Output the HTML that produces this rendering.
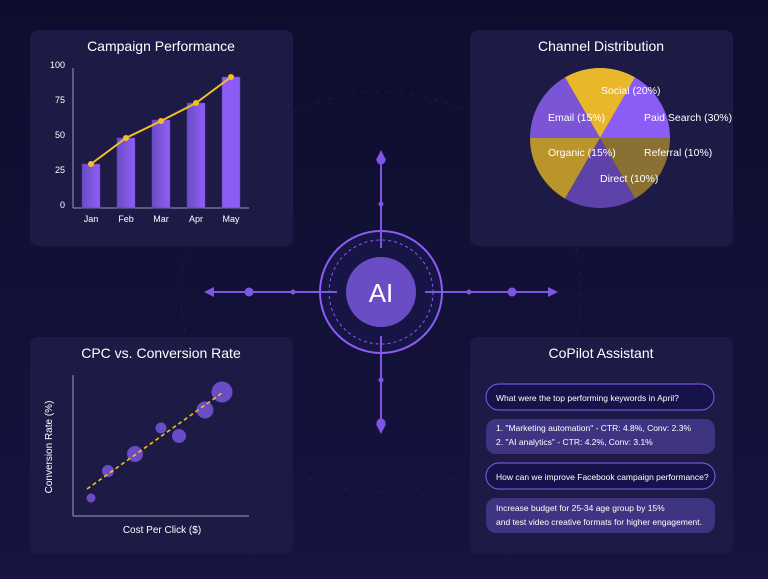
<!DOCTYPE html>
<html><head><meta charset="utf-8"><style>
body{margin:0;width:768px;height:579px;overflow:hidden;background:#100f32;font-family:"Liberation Sans",sans-serif}
svg{display:block}
text{font-family:"Liberation Sans",sans-serif;fill:#fff}
</style></head><body>
<svg width="768" height="579" viewBox="0 0 768 579">
<defs>
<linearGradient id="bg" x1="0" y1="0" x2="0" y2="1"><stop offset="0" stop-color="#0e0d2e"/><stop offset="1" stop-color="#161440"/></linearGradient>
<linearGradient id="bar" x1="0" y1="0" x2="1" y2="0"><stop offset="0" stop-color="#6a4cc4"/><stop offset="1" stop-color="#8f5ff7"/></linearGradient>
</defs>
<rect width="768" height="579" fill="url(#bg)"/>
<circle cx="381" cy="292" r="200" fill="none" stroke="#2a2760" stroke-dasharray="4 8" opacity=".5"/>
<!-- panels -->
<g fill="#1d1b45">
<rect x="30" y="30" width="263" height="216" rx="8"/>
<rect x="470" y="30" width="263" height="216" rx="8"/>
<rect x="30" y="337" width="263" height="217" rx="8"/>
<rect x="470" y="337" width="263" height="217" rx="8"/>
</g>
<!-- bar chart -->
<text x="161" y="51" font-size="14" text-anchor="middle">Campaign Performance</text>
<g font-size="9" text-anchor="end"><text x="65" y="68">100</text><text x="65" y="103">75</text><text x="65" y="138">50</text><text x="65" y="173">25</text><text x="65" y="208">0</text></g>
<line x1="73" y1="68" x2="73" y2="208" stroke="#9a98b8" stroke-width="1"/>
<line x1="73" y1="208" x2="249" y2="208" stroke="#9a98b8" stroke-width="1"/>
<g fill="url(#bar)" stroke="#5a3fb0" stroke-width=".5">
<rect x="82" y="164" width="18" height="44"/><rect x="117" y="138" width="18" height="70"/><rect x="152" y="120" width="18" height="88"/><rect x="187" y="103" width="18" height="105"/><rect x="222" y="77" width="18" height="131" fill="#8b5cf6"/>
</g>
<polyline points="91,164 126,138 161,121 196,103 231,77" fill="none" stroke="#f2bf25" stroke-width="2"/>
<g fill="#f2bf25"><circle cx="91" cy="164" r="3"/><circle cx="126" cy="138" r="3"/><circle cx="161" cy="121" r="3"/><circle cx="196" cy="103" r="3"/><circle cx="231" cy="77" r="3"/></g>
<g font-size="9" text-anchor="middle"><text x="91" y="222">Jan</text><text x="126" y="222">Feb</text><text x="161" y="222">Mar</text><text x="196" y="222">Apr</text><text x="231" y="222">May</text></g>
<!-- pie -->
<text x="601" y="51" font-size="14" text-anchor="middle">Channel Distribution</text>
<g transform="translate(600,138)">
<path d="M0 0 L35 -60.6 A70 70 0 0 1 70 0Z" fill="#8b5cf6"/>
<path d="M0 0 L-35 -60.6 A70 70 0 0 1 35 -60.6Z" fill="#e8b82a"/>
<path d="M0 0 L-70 0 A70 70 0 0 1 -35 -60.6Z" fill="#7b55d6"/>
<path d="M0 0 L-35 60.6 A70 70 0 0 1 -70 0Z" fill="#b9952b"/>
<path d="M0 0 L35 60.6 A70 70 0 0 1 -35 60.6Z" fill="#5e42aa"/>
<path d="M0 0 L70 0 A70 70 0 0 1 35 60.6Z" fill="#8a7032"/>
</g>
<g font-size="10.5"><text x="601" y="94">Social (20%)</text><text x="548" y="121">Email (15%)</text><text x="644" y="121">Paid Search (30%)</text><text x="548" y="156">Organic (15%)</text><text x="644" y="156">Referral (10%)</text><text x="600" y="182">Direct (10%)</text></g>
<!-- scatter -->
<text x="161" y="358" font-size="14" text-anchor="middle">CPC vs. Conversion Rate</text>
<line x1="73" y1="375" x2="73" y2="516" stroke="#9a98b8"/>
<line x1="73" y1="516" x2="249" y2="516" stroke="#9a98b8"/>
<g fill="#6a4cc4"><circle cx="91" cy="498" r="4.5"/><circle cx="108" cy="471" r="6"/><circle cx="135" cy="454" r="8"/><circle cx="161" cy="428" r="5.5"/><circle cx="179" cy="436" r="7"/><circle cx="205" cy="410" r="8.5"/><circle cx="222" cy="392" r="10.5"/></g>
<line x1="87" y1="489" x2="222" y2="393" stroke="#f2bf25" stroke-width="1.6" stroke-dasharray="4 3"/>
<text x="162" y="533" font-size="10" text-anchor="middle">Cost Per Click ($)</text>
<text transform="translate(52,447) rotate(-90)" font-size="10" text-anchor="middle">Conversion Rate (%)</text>
<!-- chat -->
<text x="601" y="358" font-size="14" text-anchor="middle">CoPilot Assistant</text>
<rect x="486" y="384" width="228" height="26" rx="13" fill="#16134a" stroke="#8b5cf6"/>
<text x="496" y="401" font-size="8.5">What were the top performing keywords in April?</text>
<rect x="486" y="419" width="229" height="35" rx="10" fill="#3f3482"/>
<text x="496" y="431" font-size="8.5">1. "Marketing automation" - CTR: 4.8%, Conv: 2.3%</text>
<text x="496" y="445" font-size="8.5">2. "AI analytics" - CTR: 4.2%, Conv: 3.1%</text>
<rect x="486" y="463" width="229" height="26" rx="13" fill="#16134a" stroke="#8b5cf6"/>
<text x="496" y="480" font-size="8.5">How can we improve Facebook campaign performance?</text>
<rect x="486" y="498" width="229" height="35" rx="10" fill="#3f3482"/>
<text x="496" y="511" font-size="8.5">Increase budget for 25-34 age group by 15%</text>
<text x="496" y="525" font-size="8.5">and test video creative formats for higher engagement.</text>
<!-- center -->
<g stroke="#7f55e6" stroke-width="2" fill="none">
<line x1="381" y1="157" x2="381" y2="248"/><line x1="381" y1="336" x2="381" y2="427"/>
<line x1="210" y1="292" x2="337" y2="292"/><line x1="425" y1="292" x2="552" y2="292"/>
</g>
<g fill="#7f55e6">
<path d="M381 150 L376 160 L386 160Z"/><path d="M381 434 L376 424 L386 424Z"/>
<path d="M204 292 L214 287 L214 297Z"/><path d="M558 292 L548 287 L548 297Z"/>
<circle cx="381" cy="160" r="4.5"/><circle cx="381" cy="204" r="2.5"/><circle cx="381" cy="380" r="2.5"/><circle cx="381" cy="423" r="4.5"/>
<circle cx="249" cy="292" r="4.5"/><circle cx="293" cy="292" r="2.5"/><circle cx="469" cy="292" r="2.5"/><circle cx="512" cy="292" r="4.5"/>
</g>
<circle cx="381" cy="292" r="61" fill="#171446" stroke="#8b5cf6" stroke-width="2"/>
<circle cx="381" cy="292" r="52" fill="none" stroke="#8b5cf6" stroke-width="1" stroke-dasharray="3 3"/>
<g stroke="#7f55e6" stroke-width="2"><line x1="381" y1="231" x2="381" y2="248"/><line x1="381" y1="336" x2="381" y2="353"/><line x1="320" y1="292" x2="337" y2="292"/><line x1="425" y1="292" x2="442" y2="292"/></g>
<circle cx="381" cy="292" r="35" fill="#6a4cc4"/>
<text x="381" y="302" font-size="26" text-anchor="middle">AI</text>
</svg>
</body></html>
